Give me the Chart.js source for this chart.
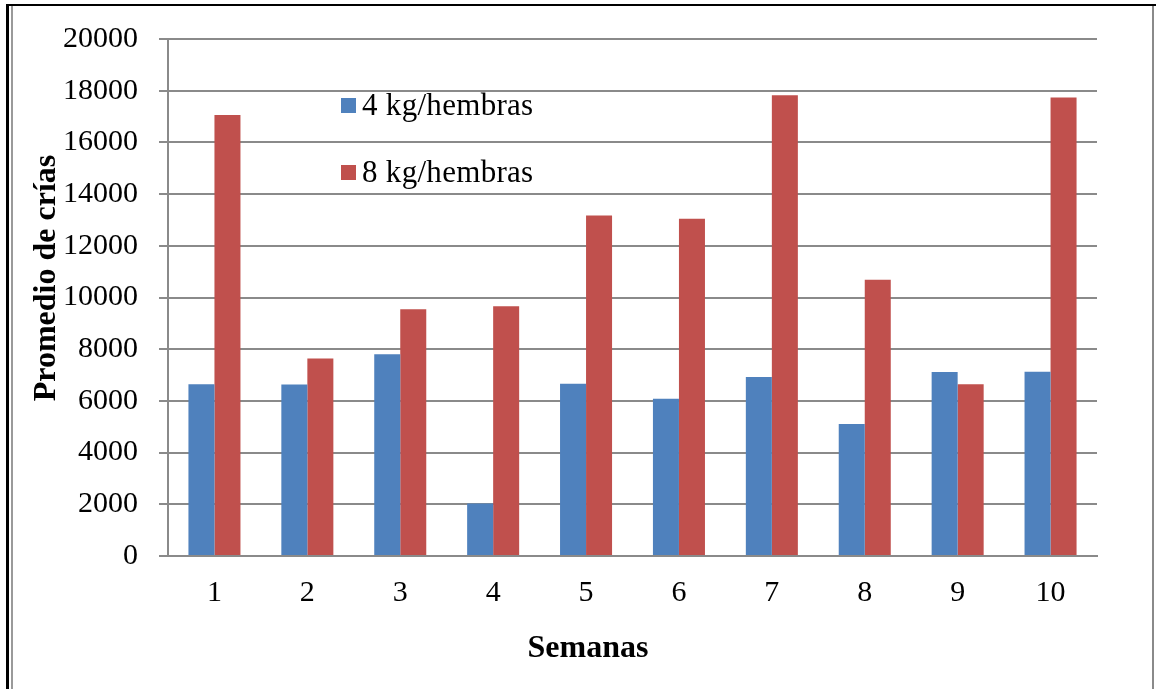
<!DOCTYPE html>
<html lang="es">
<head>
<meta charset="utf-8">
<title>Promedio de crías por semana</title>
<script src="https://cdn.jsdelivr.net/npm/chart.js@4.4.1/dist/chart.umd.min.js"></script>
<style>
  html, body { margin: 0; padding: 0; background: #ffffff; }
  #wrap { position: relative; width: 1156px; height: 689px; overflow: hidden; background: #ffffff; }
  #chart { position: absolute; left: 0; top: 0; }
  .frame-black-left { position: absolute; left: 6px; top: 4px; width: 3px; height: 685px; background: #000; }
  .frame-black-top { position: absolute; left: 6px; top: 4px; width: 1150px; height: 2px; background: #000; }
  .frame-gray-left { position: absolute; left: 11px; top: 6px; width: 2px; height: 683px; background: #9a9a9a; }
  .frame-gray-right { position: absolute; left: 1152px; top: 6px; width: 2px; height: 683px; background: #8a8a8a; }
</style>
</head>
<body>
<div id="wrap">
  <canvas id="chart" width="1156" height="689"></canvas>
  <div class="frame-black-left"></div>
  <div class="frame-black-top"></div>
  <div class="frame-gray-left"></div>
  <div class="frame-gray-right"></div>
</div>
<script>
// Semanas del ensayo
const semanas = ['1', '2', '3', '4', '5', '6', '7', '8', '9', '10'];
// Promedio de crías con 4 kg de alimento por hembra
const crias4kg = [6640, 6630, 7800, 2030, 6660, 6080, 6920, 5110, 7120, 7130];
// Promedio de crías con 8 kg de alimento por hembra
const crias8kg = [17060, 7640, 9550, 9660, 13170, 13050, 17820, 10690, 6640, 17740];
// Escala del eje vertical
const ejeYMin = 0;
const ejeYMax = 20000;
const ejeYPaso = 2000;

const serie4Label = '4 kg/hembras';
const serie8Label = '8 kg/hembras';
const tituloY = 'Promedio de crías';
const tituloX = 'Semanas';

const AZUL = '#4F81BD';
const ROJO = '#C0504D';
const GRIS = '#8a8a8a';
const SERIF = "'Liberation Serif', 'Times New Roman', Times, serif";

// Títulos de ejes y leyenda dibujados dentro del área del gráfico
const decoracion = {
  id: 'decoracion',
  afterDraw(chart) {
    const ctx = chart.ctx;
    const area = chart.chartArea;
    ctx.save();
    ctx.fillStyle = '#000';

    // Título eje X
    ctx.font = 'bold 32px ' + SERIF;
    ctx.textAlign = 'center';
    ctx.textBaseline = 'alphabetic';
    ctx.fillText(tituloX, 588, 657);

    // Título eje Y (rotado)
    ctx.save();
    ctx.translate(55, 278);
    ctx.rotate(-Math.PI / 2);
    ctx.fillText(tituloY, 0, 0);
    ctx.restore();

    // Leyenda
    ctx.font = '31px ' + SERIF;
    ctx.textAlign = 'left';
    if ('letterSpacing' in ctx) ctx.letterSpacing = '0.3px';
    const items = chart.data.datasets.map(ds => ({ text: ds.label, color: ds.backgroundColor }));
    const x0 = area.left + 173;
    items.forEach((it, i) => {
      const top = 98 + i * 67;
      ctx.fillStyle = it.color;
      ctx.fillRect(x0, top, 15, 15);
      ctx.fillStyle = '#000';
      ctx.fillText(it.text, x0 + 21, top + 17);
    });
    ctx.restore();
  }
};

new Chart(document.getElementById('chart'), {
  type: 'bar',
  data: {
    labels: semanas,
    datasets: [
      { label: serie4Label, data: crias4kg, backgroundColor: AZUL, borderWidth: 0 },
      { label: serie8Label, data: crias8kg, backgroundColor: ROJO, borderWidth: 0 }
    ]
  },
  options: {
    responsive: false,
    animation: false,
    devicePixelRatio: 1,
    layout: { padding: { top: 37, right: 59, bottom: 0, left: 0 } },
    datasets: { bar: { categoryPercentage: 0.56, barPercentage: 1.0 } },
    plugins: {
      legend: { display: false },
      tooltip: { enabled: false },
      title: { display: false }
    },
    scales: {
      x: {
        grid: { display: false, drawTicks: false },
        border: { display: true, color: GRIS, width: 2 },
        ticks: { color: '#000', font: { family: SERIF, size: 30 }, padding: 19, maxRotation: 0 },
        afterFit(scale) { scale.height = 133; }
      },
      y: {
        min: ejeYMin,
        max: ejeYMax,
        ticks: {
          stepSize: ejeYPaso,
          color: '#000',
          font: { family: SERIF, size: 30 },
          padding: 21,
          callback: v => String(v)
        },
        grid: { color: GRIS, lineWidth: 2, tickLength: 9, drawTicks: true },
        border: { display: true, color: GRIS, width: 2 },
        afterFit(scale) { scale.width = 168; }
      }
    }
  },
  plugins: [decoracion]
});
</script>
</body>
</html>
